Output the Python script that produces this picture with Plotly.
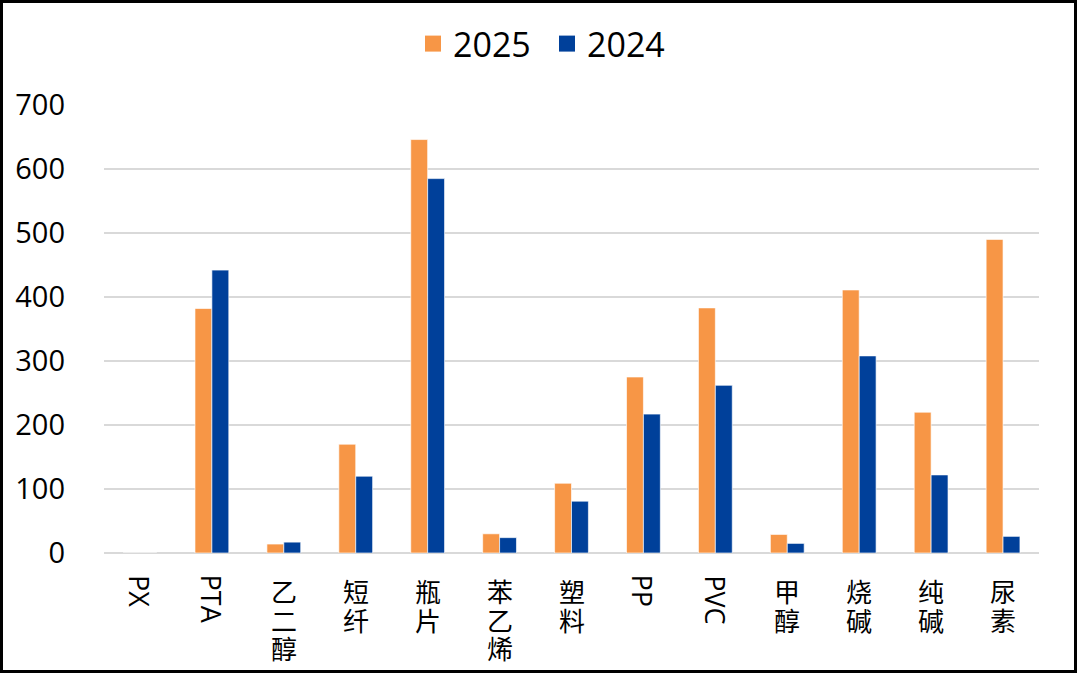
import plotly.graph_objects as go

categories = ["PX", "PTA", "乙二醇", "短纤", "瓶片", "苯乙烯", "塑料", "PP", "PVC", "甲醇", "烧碱", "纯碱", "尿素"]
v2025 = [0, 382, 14, 170, 646, 30, 109, 275, 383, 29, 411, 220, 490]
v2024 = [0, 442, 17, 120, 585, 24, 81, 217, 262, 15, 308, 122, 26]
series_names = ["2025", "2024"]
colors = ["#F79646", "#00409A"]

W, H = 1080, 676
ML, MR, MT, MB = 104, 41, 105, 123
PW, PH = W - ML - MR, H - MT - MB

FONT = "Open Sans, Noto Sans CJK SC, sans-serif"
CJK = "Noto Sans CJK SC, sans-serif"

fig = go.Figure()
for name, vals, col in zip(series_names, [v2025, v2024], colors):
    fig.add_trace(go.Bar(x=categories, y=vals, name=name, marker_color=col,
                         marker_line=dict(color="rgba(255,255,255,0.8)", width=0.8),
                         showlegend=False))
    fig.add_trace(go.Scatter(x=[None], y=[None], mode="markers", name=name,
                             marker=dict(symbol="square", size=20, color=col)))

annotations = []
for cat in categories:
    if cat.isascii():
        annotations.append(dict(x=cat, xref="x", y=0, yref="paper", yanchor="top",
                                xanchor="center", yshift=-20, text=cat, textangle=90,
                                showarrow=False, font=dict(family=FONT, size=27, color="#000")))
    else:
        stacked = "<br>".join('<span style="font-size:26px">%s</span>' % ch for ch in cat)
        annotations.append(dict(x=cat, xref="x", y=0, yref="paper", yanchor="top",
                                xanchor="center", yshift=-17, text=stacked,
                                showarrow=False, font=dict(family=CJK, size=22, color="#000")))

fig.update_layout(
    width=W, height=H,
    margin=dict(l=ML, r=MR, t=MT, b=MB),
    paper_bgcolor="white", plot_bgcolor="white",
    barmode="group", bargap=0.53, bargroupgap=0,
    font=dict(family=FONT, color="#000"),
    legend=dict(orientation="h", x=(547 - ML) / PW, xanchor="center",
                y=1 + (MT - 44) / PH, yanchor="middle",
                entrywidth=89, entrywidthmode="pixels",
                font=dict(family=FONT, size=34, color="#000"),
                bgcolor="rgba(0,0,0,0)"),
    xaxis=dict(showticklabels=False, showgrid=False, zeroline=False, showline=False,
               ticks=""),
    yaxis=dict(range=[0, 700], dtick=100, showgrid=True, gridcolor="#D9D9D9", gridwidth=1.5,
               zeroline=True, zerolinecolor="#D9D9D9", zerolinewidth=1.5, showline=False,
               ticks="", ticklabelstandoff=38, tickfont=dict(family=FONT, size=29, color="#000")),
    annotations=annotations,
    shapes=[dict(type="rect", xref="paper", yref="paper",
                 x0=-(ML - 1.5) / PW, x1=1 + (MR - 4.5) / PW,
                 y0=-(MB - 4.5) / PH, y1=1 + (MT - 1.5) / PH,
                 line=dict(color="#000", width=3), fillcolor="rgba(0,0,0,0)")],
)

fig.write_html("out.html", config={"displayModeBar": False},
               post_script="document.body.style.margin='0';document.body.style.overflow='hidden';")
